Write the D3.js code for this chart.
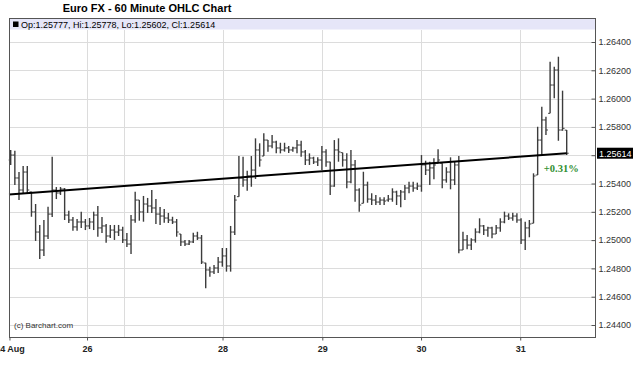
<!DOCTYPE html>
<html>
<head>
<meta charset="utf-8">
<script src="https://cdn.jsdelivr.net/npm/d3@7"></script>
<style>
body { margin: 0; background: #fff; }
svg { display: block; }
text { font-family: "Liberation Sans", Arial, sans-serif; }
</style>
</head>
<body>
<script>
// hourly bars, 24 Aug - 31 Aug
const opens = [1.25566,1.25601,1.25439,1.25354,1.25481,1.25340,1.25199,1.25057,1.24930,1.25029,
1.25184,1.25354,1.25333,1.25361,1.25177,1.25142,1.25093,1.25128,1.25128,1.25100,
1.25128,1.25177,1.25086,1.25100,1.25029,1.25071,1.25057,1.25071,1.25001,1.24972,
1.25142,1.25283,1.25199,1.25255,1.25241,1.25227,1.25184,1.25170,1.25156,1.25142,
1.25128,1.25043,1.24987,1.24972,1.24987,1.25029,1.25015,1.24838,1.24789,1.24775,
1.24803,1.24845,1.24888,1.24817,1.25057,1.25307,1.25439,1.25425,1.25453,1.25495,
1.25637,1.25594,1.25707,1.25665,1.25693,1.25651,1.25637,1.25651,1.25637,1.25651,
1.25672,1.25623,1.25566,1.25580,1.25552,1.25566,1.25623,1.25552,1.25382,1.25637,
1.25618,1.25566,1.25411,1.25531,1.25354,1.25260,1.25389,1.25290,1.25283,1.25269,
1.25283,1.25283,1.25290,1.25340,1.25312,1.25340,1.25368,1.25382,1.25368,1.25382,
1.25531,1.25495,1.25510,1.25543,1.25543,1.25425,1.25481,1.25425,1.25531,1.24930,
1.25001,1.24965,1.25001,1.25057,1.25100,1.25071,1.25086,1.25043,1.25086,1.25128,
1.25170,1.25156,1.25170,1.25142,1.25001,1.25086,1.25119,1.25460,1.25707,1.25849,
1.25896,1.26096,1.26202,1.25778,1.25777];
const highs = [1.25637,1.25632,1.25481,1.25524,1.25524,1.25342,1.25255,1.25107,1.25142,1.25236,
1.25589,1.25375,1.25375,1.25368,1.25208,1.25163,1.25149,1.25201,1.25149,1.25156,
1.25201,1.25241,1.25163,1.25114,1.25107,1.25107,1.25107,1.25095,1.25050,1.25177,
1.25342,1.25283,1.25312,1.25298,1.25354,1.25290,1.25234,1.25220,1.25192,1.25165,
1.25149,1.25043,1.25001,1.25001,1.25052,1.25059,1.25036,1.24840,1.24812,1.24824,
1.24881,1.24944,1.24944,1.25100,1.25319,1.25594,1.25589,1.25490,1.25594,1.25719,
1.25684,1.25755,1.25707,1.25743,1.25702,1.25688,1.25688,1.25665,1.25660,1.25707,
1.25702,1.25637,1.25613,1.25589,1.25585,1.25665,1.25642,1.25554,1.25707,1.25719,
1.25618,1.25613,1.25637,1.25566,1.25366,1.25483,1.25413,1.25331,1.25319,1.25303,
1.25303,1.25319,1.25366,1.25349,1.25354,1.25389,1.25413,1.25413,1.25406,1.25601,
1.25561,1.25554,1.25578,1.25642,1.25543,1.25515,1.25585,1.25554,1.25594,1.25059,
1.25036,1.25013,1.25083,1.25154,1.25107,1.25095,1.25095,1.25107,1.25154,1.25201,
1.25189,1.25194,1.25189,1.25154,1.25130,1.25142,1.25472,1.25801,1.25943,1.25872,
1.26261,1.26225,1.26296,1.26056,1.25778];
const lows = [1.25531,1.25389,1.25283,1.25333,1.25333,1.25165,1.24994,1.24866,1.24888,1.25008,
1.25163,1.25290,1.25319,1.25142,1.25121,1.25066,1.25066,1.25086,1.25071,1.25078,
1.25071,1.25024,1.25050,1.24982,1.25015,1.25001,1.25029,1.24980,1.24951,1.24902,
1.25123,1.25137,1.25130,1.25192,1.25192,1.25114,1.25107,1.25123,1.25121,1.25114,
1.25024,1.24958,1.24958,1.24965,1.24980,1.25001,1.24831,1.24659,1.24741,1.24760,
1.24768,1.24812,1.24777,1.24777,1.25036,1.25307,1.25377,1.25349,1.25377,1.25432,
1.25519,1.25594,1.25625,1.25649,1.25613,1.25613,1.25625,1.25616,1.25625,1.25613,
1.25589,1.25531,1.25531,1.25538,1.25524,1.25495,1.25519,1.25319,1.25377,1.25554,
1.25519,1.25366,1.25401,1.25271,1.25201,1.25260,1.25264,1.25248,1.25248,1.25248,
1.25248,1.25271,1.25271,1.25248,1.25232,1.25283,1.25331,1.25342,1.25354,1.25342,
1.25460,1.25389,1.25430,1.25543,1.25366,1.25406,1.25359,1.25389,1.24907,1.24930,
1.24935,1.24930,1.24982,1.25048,1.25036,1.25024,1.25013,1.25043,1.25059,1.25119,
1.25142,1.25137,1.25123,1.24972,1.24930,1.25020,1.25119,1.25460,1.25601,1.25743,
1.25896,1.26002,1.25702,1.25773,1.25602];
const closes = [1.25601,1.25439,1.25354,1.25481,1.25354,1.25199,1.25057,1.24930,1.25029,1.25184,
1.25354,1.25333,1.25361,1.25177,1.25142,1.25093,1.25128,1.25128,1.25100,1.25128,
1.25177,1.25086,1.25100,1.25029,1.25071,1.25057,1.25071,1.25001,1.24972,1.25142,
1.25283,1.25199,1.25255,1.25241,1.25227,1.25184,1.25170,1.25156,1.25142,1.25128,
1.25057,1.24987,1.24972,1.24987,1.25029,1.25015,1.24845,1.24789,1.24775,1.24803,
1.24845,1.24888,1.24817,1.25057,1.25283,1.25439,1.25425,1.25453,1.25495,1.25637,
1.25566,1.25707,1.25665,1.25693,1.25651,1.25637,1.25651,1.25637,1.25651,1.25672,
1.25623,1.25566,1.25580,1.25552,1.25566,1.25623,1.25552,1.25382,1.25637,1.25623,
1.25566,1.25411,1.25531,1.25354,1.25248,1.25389,1.25290,1.25283,1.25269,1.25283,
1.25276,1.25290,1.25340,1.25312,1.25340,1.25368,1.25382,1.25368,1.25382,1.25531,
1.25495,1.25510,1.25531,1.25566,1.25425,1.25481,1.25425,1.25531,1.24930,1.25001,
1.24965,1.25001,1.25057,1.25100,1.25071,1.25086,1.25043,1.25086,1.25128,1.25170,
1.25156,1.25170,1.25142,1.25001,1.25086,1.25114,1.25453,1.25707,1.25849,1.25778,
1.26096,1.26202,1.25778,1.25790,1.25614];

const priceTicks = [1.244, 1.246, 1.248, 1.250, 1.252, 1.254, 1.256, 1.258, 1.260, 1.262, 1.264];
// day boundaries, in bar positions
const dayPos = [-0.3, 18.4, 27.3, 51.05, 75.1, 98.9, 122.8];
const dayLabels = ["24 Aug", "26", "", "28", "29", "30", "31"];
const trendEnds = [1.25324, 1.25614];
const lastClose = 1.25614;
const changeText = "+0.31%";

const W = 640, H = 375;
const frame = {left: 9, right: 595, top: 18, bottom: 337};

const svg = d3.select("body").append("svg")
  .attr("width", W)
  .attr("height", H);

const n = opens.length;
const x = d3.scaleLinear().domain([0, n - 1]).range([10.7, 566.7]);
const y = d3.scaleLinear().domain([1.244, 1.264]).range([325, 42]);

// title
svg.append("text")
  .attr("x", 147).attr("y", 11.5)
  .attr("text-anchor", "middle")
  .style("font-size", "11px").style("font-weight", "bold")
  .text("Euro FX - 60 Minute OHLC Chart");

// grid
const grid = svg.append("g");
grid.selectAll(".hg").data(priceTicks).enter().append("line")
  .attr("x1", frame.left).attr("x2", frame.right)
  .attr("y1", d => Math.round(y(d)) + 0.5).attr("y2", d => Math.round(y(d)) + 0.5)
  .attr("stroke", "#dcdcdc");
grid.selectAll(".vg").data(dayPos.slice(1)).enter().append("line")
  .attr("x1", d => Math.round(x(d)) + 0.5).attr("x2", d => Math.round(x(d)) + 0.5)
  .attr("y1", frame.top + 12).attr("y2", frame.bottom)
  .attr("stroke", "#dcdcdc");

// legend band
svg.append("rect")
  .attr("x", frame.left).attr("y", frame.top)
  .attr("width", frame.right - frame.left).attr("height", 11.5)
  .attr("fill", "#e6e6f8");
svg.append("rect")
  .attr("x", 13).attr("y", 21.5).attr("width", 5.5).attr("height", 5.5)
  .attr("fill", "#000");
svg.append("text")
  .attr("x", 21).attr("y", 27.5)
  .style("font-size", "9px")
  .text("Op:" + opens[n - 1].toFixed(5) + ", Hi:" + highs[n - 1].toFixed(5) +
        ", Lo:" + lows[n - 1].toFixed(5) + ", Cl:" + closes[n - 1].toFixed(5));

// OHLC bars
const bars = svg.append("g").attr("stroke", "#3c3c3c").attr("stroke-width", 1.4);
const idx = d3.range(n);
bars.selectAll(".hl").data(idx).enter().append("line")
  .attr("x1", i => x(i)).attr("x2", i => x(i))
  .attr("y1", i => y(highs[i])).attr("y2", i => y(lows[i]));
bars.selectAll(".op").data(idx).enter().append("line")
  .attr("x1", i => x(i) - 2).attr("x2", i => x(i))
  .attr("y1", i => y(opens[i])).attr("y2", i => y(opens[i]))
  .attr("stroke-width", 1);
bars.selectAll(".cl").data(idx).enter().append("line")
  .attr("x1", i => x(i)).attr("x2", i => x(i) + 2)
  .attr("y1", i => y(closes[i])).attr("y2", i => y(closes[i]))
  .attr("stroke-width", 1);

// trend line, extended to the frame's left edge
const t = d3.scaleLinear().domain([0, n - 1]).range(trendEnds);
const tStart = x.invert(frame.left);
svg.append("line")
  .attr("x1", frame.left).attr("y1", y(t(tStart)))
  .attr("x2", x(n - 1)).attr("y2", y(t(n - 1)))
  .attr("stroke", "#000").attr("stroke-width", 2);

svg.append("text")
  .attr("x", x(n - 1) + 12).attr("y", 171.5)
  .attr("text-anchor", "end")
  .style("font-family", "'Liberation Serif', 'Times New Roman', serif")
  .style("font-size", "10.5px").style("font-weight", "bold")
  .attr("fill", "#2f8f2f")
  .text(changeText);

svg.append("text")
  .attr("x", 14).attr("y", 328)
  .style("font-size", "8px").attr("fill", "#333")
  .text("(c) Barchart.com");

// frame
svg.append("rect")
  .attr("x", frame.left + 0.5).attr("y", frame.top + 0.5)
  .attr("width", frame.right - frame.left).attr("height", frame.bottom - frame.top)
  .attr("fill", "none").attr("stroke", "#555");

// right price axis (the label under the last-price tag is hidden, as on the original)
const fmt = d3.format(".5f");
const yAxis = d3.axisRight(y)
  .tickValues(priceTicks)
  .tickFormat(d => Math.abs(y(d) - y(lastClose)) < 9 ? "" : fmt(d))
  .tickSizeInner(-4).tickSizeOuter(0).tickPadding(3);
const ya = svg.append("g")
  .attr("transform", "translate(" + (frame.right + 0.5) + ",0)")
  .call(yAxis);
ya.select(".domain").remove();
ya.selectAll("line").attr("stroke", "#555");
ya.selectAll("text").style("font-size", "9px").attr("fill", "#333")
  .style("font-family", "'Liberation Sans', Arial, sans-serif");

// last price tag
svg.append("rect")
  .attr("x", 597).attr("y", y(lastClose) - 5.5)
  .attr("width", 36).attr("height", 11)
  .attr("fill", "#000");
svg.append("text")
  .attr("x", 599).attr("y", y(lastClose) + 3.3)
  .style("font-size", "9px").attr("fill", "#fff")
  .text(lastClose.toFixed(5));

// bottom date axis
const xAxis = d3.axisBottom(x)
  .tickValues(dayPos.filter((d, i) => dayLabels[i] !== ""))
  .tickFormat(d => dayLabels[dayPos.indexOf(d)])
  .tickSizeInner(3).tickSizeOuter(0).tickPadding(5);
const xa = svg.append("g")
  .attr("transform", "translate(0," + (frame.bottom + 0.5) + ")")
  .call(xAxis);
xa.select(".domain").remove();
xa.selectAll("line").attr("stroke", "#555");
xa.selectAll("text")
  .style("font-size", "9px").style("font-weight", "bold")
  .style("font-family", "'Liberation Sans', Arial, sans-serif")
  .attr("fill", "#222");
</script>
</body>
</html>
